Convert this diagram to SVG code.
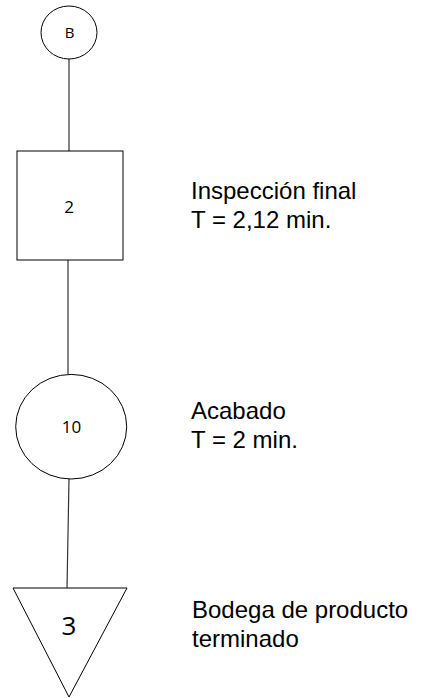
<svg xmlns="http://www.w3.org/2000/svg" width="421" height="698" viewBox="0 0 421 698">
<style>
.shape{fill:#ffffff;stroke:#000000;stroke-width:1}
.conn{stroke:#333333;stroke-width:1.2;fill:none}
.lbl{font-family:"Open Sans","Liberation Sans",sans-serif;fill:#000000;text-anchor:middle}
.note{font-family:"Liberation Sans",Arial,sans-serif;fill:#000000;font-size:24px}
</style>
<rect width="421" height="698" fill="#ffffff"/>
<g id="connectors">
<line class="conn" x1="69" y1="59" x2="69" y2="151"/>
<line class="conn" x1="68" y1="260" x2="68" y2="374"/>
<line class="conn" x1="69" y1="479" x2="67" y2="588"/>
</g>
<g id="node-B">
<ellipse class="shape" cx="69" cy="32.5" rx="28" ry="26.5"/>
<text class="lbl" x="69.5" y="38" font-size="15">B</text>
</g>
<g id="node-2">
<rect class="shape" x="17" y="151" width="106" height="109"/>
<text class="lbl" x="69" y="213" font-size="17">2</text>
<text class="note" x="191" y="199">Inspección final</text>
<text class="note" x="191" y="227.5">T = 2,12 min.</text>
</g>
<g id="node-10">
<ellipse class="shape" cx="71.2" cy="426.7" rx="55.5" ry="52.3"/>
<text class="lbl" x="71.5" y="433" font-size="17">10</text>
<text class="note" x="191" y="419">Acabado</text>
<text class="note" x="191" y="447.5">T = 2 min.</text>
</g>
<g id="node-3">
<polygon class="shape" points="13,588 127,588 69,697"/>
<text class="lbl" x="69" y="635" font-size="26">3</text>
<text class="note" x="192" y="618">Bodega de producto</text>
<text class="note" x="192" y="646.5">terminado</text>
</g>
</svg>
